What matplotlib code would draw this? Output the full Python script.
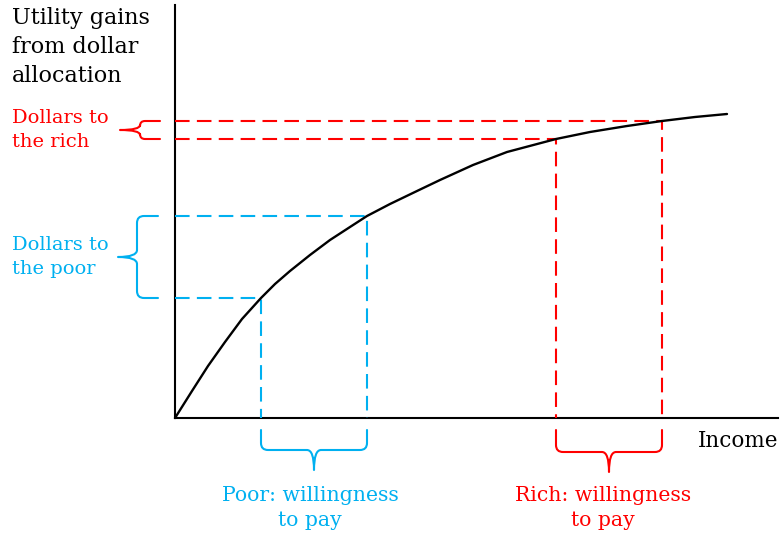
import numpy as np
import matplotlib.pyplot as plt
from matplotlib.path import Path
from matplotlib.patches import PathPatch

# utility curve (income, utility)
income = [0, 17, 33, 50, 67, 86, 100, 115, 135, 155, 175, 192, 215, 242, 265, 298,
          332, 381, 415, 452, 487, 520, 552]
utility = [0, 27, 52, 76, 99, 120, 134, 147, 163, 178, 191, 202, 214, 227, 238, 253,
           266, 279, 286, 292, 297, 301, 304]

# the two groups: low / high income and their utility
poor_income = [86, 192]
poor_utility = [120, 202]
rich_income = [381, 487]
rich_utility = [279, 297]

RED = "#ff0000"
BLUE = "#00b0f0"
FONT = "DejaVu Serif"


def brace(ax, lo, hi, end, spine, tip, color, vertical=True, r=6):
    # curly brace from lo to hi, arms end at `end`, middle point sticks out to `tip`
    m = (lo + hi) / 2
    d = np.sign(end - spine)
    pts = [(end, hi), (spine + d * r, hi), (spine, hi), (spine, hi - r),
           (spine, m + r), (spine, m), (tip, m),
           (spine, m), (spine, m - r),
           (spine, lo + r), (spine, lo), (spine + d * r, lo), (end, lo)]
    codes = [Path.MOVETO, Path.LINETO, Path.CURVE3, Path.CURVE3,
             Path.LINETO, Path.CURVE3, Path.CURVE3,
             Path.CURVE3, Path.CURVE3,
             Path.LINETO, Path.CURVE3, Path.CURVE3, Path.LINETO]
    if not vertical:
        pts = [(b, a) for a, b in pts]
    ax.add_patch(PathPatch(Path(pts, codes), fill=False, edgecolor=color,
                           lw=1.5, capstyle="round", joinstyle="round"))


fig = plt.figure(figsize=(7.8, 5.39), dpi=100)
ax = fig.add_axes([0, 0, 1, 1])
ax.set_xlim(-175, 605)
ax.set_ylim(-121, 418)
ax.axis("off")

# axes
ax.plot([0, 0], [0, 413], color="black", lw=1.5)
ax.plot([0, 603], [0, 0], color="black", lw=1.5)

# dashed guides
for xs, ys, c in [(poor_income, poor_utility, BLUE), (rich_income, rich_utility, RED)]:
    for x, y in zip(xs, ys):
        ax.plot([0, x, x], [y, y, 0], color=c, lw=1.5, dashes=(7, 3.5))

ax.plot(income, utility, color="black", lw=1.7, solid_capstyle="round",
        solid_joinstyle="round")

# braces
brace(ax, rich_utility[0], rich_utility[1], -15, -35, -55, RED, r=5)
brace(ax, poor_utility[0], poor_utility[1], -17, -38, -57, BLUE, r=7)
brace(ax, poor_income[0], poor_income[1], -12, -32, -52, BLUE, vertical=False, r=7)
brace(ax, rich_income[0], rich_income[1], -12, -34, -54, RED, vertical=False, r=7)

# labels
ax.text(-163, 411, "Utility gains\nfrom dollar\nallocation", ha="left", va="top",
        fontsize=16, family=FONT, linespacing=1.42)
ax.text(-163, 288, "Dollars to\nthe rich", ha="left", va="center",
        fontsize=14, family=FONT, color=RED, linespacing=1.38)
ax.text(-163, 161, "Dollars to\nthe poor", ha="left", va="center",
        fontsize=14, family=FONT, color=BLUE, linespacing=1.42)
ax.text(135, -90, "Poor: willingness\nto pay", ha="center", va="center",
        fontsize=14.7, family=FONT, color=BLUE, linespacing=1.45)
ax.text(428, -90, "Rich: willingness\nto pay", ha="center", va="center",
        fontsize=14.7, family=FONT, color=RED, linespacing=1.45)
ax.text(603, -23, "Income", ha="right", va="center", fontsize=15.5, family=FONT)

fig.savefig("out.png", dpi=100)
